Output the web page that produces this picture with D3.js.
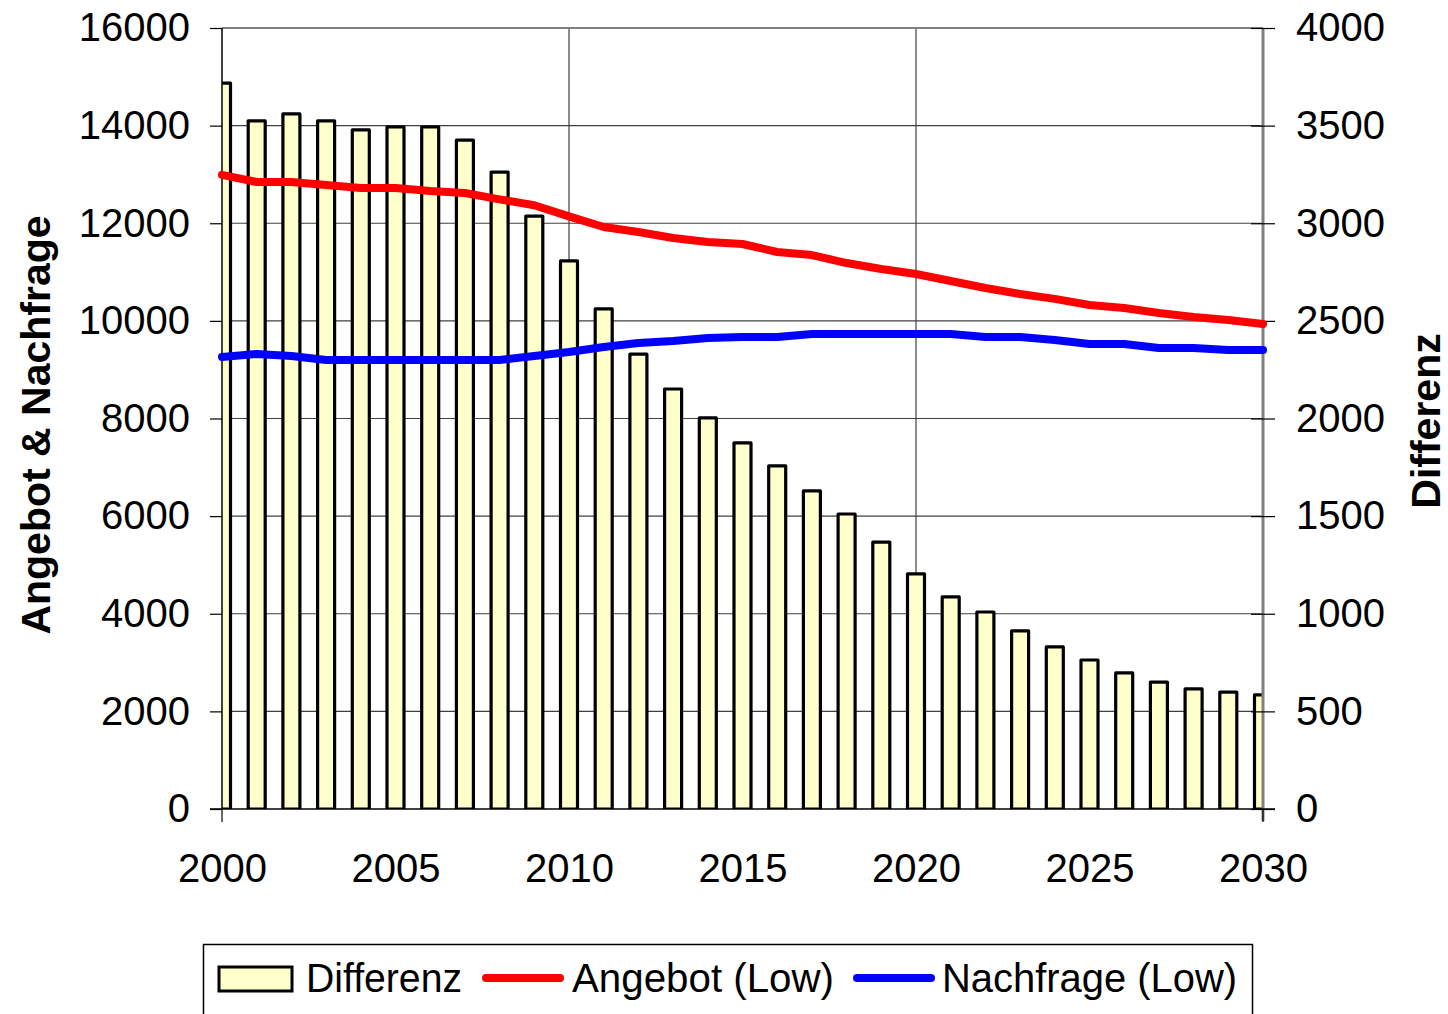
<!DOCTYPE html>
<html>
<head>
<meta charset="utf-8">
<script src="https://cdn.jsdelivr.net/npm/d3@7"></script>
<style>
  body { margin: 0; background: #fff; }
  svg { font-family: "Liberation Sans", Arial, sans-serif; }
</style>
</head>
<body>
<script>
// data
var years = d3.range(2000, 2031);
var differenz = [3718, 3524, 3560, 3524, 3478, 3493, 3493, 3426, 3262, 3037,
                 2807, 2561, 2330, 2151, 2003, 1875, 1757, 1629, 1511, 1367,
                 1204, 1086, 1009, 912, 830, 763, 697, 650, 615, 599, 584];
var angebot = [12990, 12845, 12845, 12784, 12722, 12722, 12661, 12620, 12490, 12370,
               12140, 11923, 11821, 11698, 11616, 11575, 11411, 11349, 11185, 11063,
               10960, 10817, 10673, 10550, 10450, 10325, 10264, 10161, 10079, 10018, 9936];
var nachfrage = [9260, 9321, 9280, 9198, 9198, 9198, 9198, 9198, 9198, 9280,
                 9362, 9465, 9546, 9587, 9649, 9670, 9670, 9731, 9731, 9731,
                 9731, 9731, 9670, 9670, 9608, 9526, 9526, 9444, 9444, 9403, 9403];
var leftTicks = [0, 2000, 4000, 6000, 8000, 10000, 12000, 14000, 16000];
var rightTicks = [0, 500, 1000, 1500, 2000, 2500, 3000, 3500, 4000];
var xTicks = [2000, 2005, 2010, 2015, 2020, 2025, 2030];
var gridYears = [2010, 2020];

var W = 1448, H = 1014;
var plot = {left: 222, right: 1263, top: 28, bottom: 809};

var svg = d3.select("body").append("svg")
  .attr("width", W).attr("height", H);

var x = d3.scaleLinear().domain([2000, 2030]).range([plot.left, plot.right]);
var yL = d3.scaleLinear().domain([0, 16000]).range([plot.bottom, plot.top]);
var yR = d3.scaleLinear().domain([0, 4000]).range([plot.bottom, plot.top]);

svg.append("clipPath").attr("id", "clip")
  .append("rect")
  .attr("x", plot.left).attr("y", plot.top - 5)
  .attr("width", plot.right - plot.left).attr("height", plot.bottom - plot.top + 5);

// gridlines
svg.append("g").selectAll("line").data(leftTicks.slice(1)).enter().append("line")
  .attr("x1", plot.left).attr("x2", plot.right)
  .attr("y1", function(d){return yL(d);}).attr("y2", function(d){return yL(d);})
  .attr("stroke", "#404040")
  .attr("stroke-width", 1.2);
svg.append("g").selectAll("line").data(gridYears).enter().append("line")
  .attr("x1", function(d){return x(d);}).attr("x2", function(d){return x(d);})
  .attr("y1", plot.top).attr("y2", plot.bottom)
  .attr("stroke", "#404040")
  .attr("stroke-width", 1.2);

// top border (gray)
svg.append("line")
  .attr("x1", plot.left).attr("x2", plot.right)
  .attr("y1", plot.top).attr("y2", plot.top)
  .attr("stroke", "#808080").attr("stroke-width", 2);

// bars
var barW = 17;
svg.append("g").attr("clip-path", "url(#clip)")
  .selectAll("rect").data(differenz).enter().append("rect")
  .attr("x", function(d, i){return x(years[i]) - barW / 2;})
  .attr("y", function(d){return yR(d);})
  .attr("width", barW)
  .attr("height", function(d){return plot.bottom - yR(d);})
  .attr("fill", "#FFFFCC")
  .attr("stroke", "#000")
  .attr("stroke-width", 3.2)
  .attr("stroke-linejoin", "round");

// axes
var axL = svg.append("g").attr("transform", "translate(" + plot.left + ",0)")
  .call(d3.axisLeft(yL).tickValues(leftTicks).tickSize(12).tickPadding(20).tickFormat(d3.format("d")));
var axR = svg.append("g").attr("transform", "translate(" + plot.right + ",0)")
  .call(d3.axisRight(yR).tickValues(rightTicks).tickSize(12).tickPadding(21).tickFormat(d3.format("d")));
var axB = svg.append("g").attr("transform", "translate(0," + plot.bottom + ")")
  .call(d3.axisBottom(x).tickValues(xTicks).tickSize(0).tickPadding(45).tickFormat(d3.format("d")));

[axL, axR, axB].forEach(function(a){
  a.selectAll("text").attr("font-size", 40).attr("fill", "#000")
    .attr("font-family", "Liberation Sans, Arial, sans-serif");
  a.selectAll(".tick line").attr("stroke", "#000").attr("stroke-width", 1.2);
});
axL.select(".domain").attr("stroke", "#000").attr("stroke-width", 1.5).attr("d", "M0," + plot.top + "V" + plot.bottom);
axR.select(".domain").attr("stroke", "#808080").attr("stroke-width", 3).attr("d", "M0," + plot.top + "V" + (plot.bottom + 12));
axR.selectAll(".tick line").attr("x1", -12);
axB.select(".domain").attr("stroke", "#000").attr("stroke-width", 1.5)
  .attr("d", "M" + (plot.left - 12) + ",0H" + (plot.right + 12));

// bottom ticks at the ends
svg.append("g").selectAll("line").data([2000, 2030]).enter().append("line")
  .attr("x1", function(d){return x(d);}).attr("x2", function(d){return x(d);})
  .attr("y1", plot.bottom).attr("y2", plot.bottom + 13)
  .attr("stroke", "#000").attr("stroke-width", 1.2);

// lines
var lineL = function(vals){
  return d3.line()
    .x(function(d, i){return x(years[i]);})
    .y(function(d){return yL(d);})(vals);
};
svg.append("path").attr("d", lineL(angebot))
  .attr("fill", "none").attr("stroke", "#FF0000").attr("stroke-width", 8)
  .attr("stroke-linecap", "round").attr("stroke-linejoin", "round");
svg.append("path").attr("d", lineL(nachfrage))
  .attr("fill", "none").attr("stroke", "#0000FF").attr("stroke-width", 8)
  .attr("stroke-linecap", "round").attr("stroke-linejoin", "round");

// axis titles
svg.append("text")
  .attr("transform", "translate(50,425) rotate(-90)")
  .attr("text-anchor", "middle")
  .attr("font-size", 41).attr("font-weight", "bold")
  .text("Angebot & Nachfrage");
svg.append("text")
  .attr("transform", "translate(1440,421) rotate(-90)")
  .attr("text-anchor", "middle")
  .attr("font-size", 41).attr("font-weight", "bold")
  .text("Differenz");

// legend
var lg = svg.append("g");
lg.append("rect").attr("x", 203.5).attr("y", 944.5).attr("width", 1049).attr("height", 80)
  .attr("fill", "#fff").attr("stroke", "#000").attr("stroke-width", 1.5);
lg.append("rect").attr("x", 219).attr("y", 967).attr("width", 73).attr("height", 24)
  .attr("fill", "#FFFFCC").attr("stroke", "#000").attr("stroke-width", 3);
lg.append("line").attr("x1", 486).attr("x2", 560).attr("y1", 978).attr("y2", 978)
  .attr("stroke", "#FF0000").attr("stroke-width", 8).attr("stroke-linecap", "round");
lg.append("line").attr("x1", 857).attr("x2", 931).attr("y1", 978).attr("y2", 978)
  .attr("stroke", "#0000FF").attr("stroke-width", 8).attr("stroke-linecap", "round");
var legendItems = [
  {label: "Differenz", x: 306, w: 156},
  {label: "Angebot (Low)", x: 572, w: 262},
  {label: "Nachfrage (Low)", x: 942, w: 295}
];
lg.selectAll("text.lbl").data(legendItems).enter().append("text")
  .attr("class", "lbl")
  .attr("x", function(d){return d.x;}).attr("y", 992)
  .attr("font-size", 40)
  .attr("textLength", function(d){return d.w;})
  .attr("lengthAdjust", "spacingAndGlyphs")
  .text(function(d){return d.label;});
</script>
</body>
</html>
